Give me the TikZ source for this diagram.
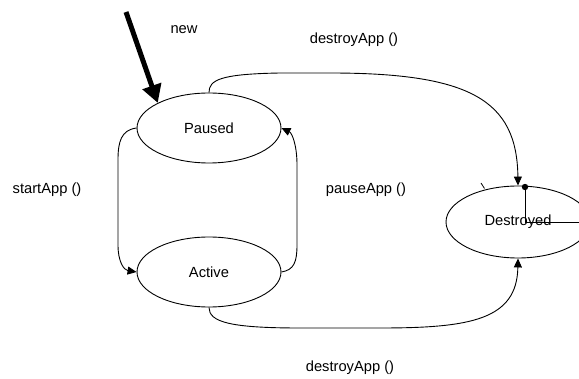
\documentclass[tikz,border=0pt]{standalone}
\usepackage{fontspec}
\setmainfont{Liberation Sans}
\usetikzlibrary{arrows.meta,shapes.geometric}
\begin{document}
\begin{tikzpicture}[x=1pt,y=-1pt,
  every node/.style={font=\fontsize{14.7}{17}\selectfont},
  state/.style={ellipse,draw,line width=0.9pt,minimum width=144pt,minimum height=70pt,inner sep=0pt},
  trans/.style={line width=0.9pt,-{Triangle[length=9pt,width=8pt]}},
  label/.style={inner sep=0pt},
  initial/.style={line width=5pt,-{Triangle[length=18pt,width=19pt]}}]
  \useasboundingbox (0,0) rectangle (579,379);
  \clip (0,0) rectangle (579,379);

  % states
  \node[state] (paused) at (209,128) {Paused};
  \node[state] (active) at (209,272) {Active};
  \node[state,minimum height=72pt] (destroyed) at (518,222) {Destroyed};

  % initial transition
  \coordinate (newstart) at (126,12);
  \draw[initial] (newstart) -- (paused.north west);
  \node[label] (lnew) at (184,30) {new};

  % destroyApp from Paused
  \draw[trans] (paused.north) .. controls (209,80) and (220,74) .. (280,73)
    -- (330,73) .. controls (470,73) and (517,100) .. (destroyed.north);
  \node[label] (ldestroytop) at (354,40) {destroyApp ()};

  % destroyApp from Active
  \draw[trans] (active.south) .. controls (209,322) and (230,328) .. (300,328)
    -- (380,328) .. controls (470,328) and (517,320) .. (destroyed.south);
  \node[label] (ldestroybot) at (350,368) {destroyApp ()};

  % startApp
  \draw[trans] (paused.west) .. controls (121,130) and (118,142) .. (118,160)
    -- (118,245) .. controls (118,262) and (124,270) .. (active.west);
  \node[label] (lstart) at (47,190) {startApp ()};

  % pauseApp
  \draw[trans] (active.east) .. controls (294,270) and (297,262) .. (297,245)
    -- (297,165) .. controls (297,145) and (292,133) .. (paused.east);
  \node[label] (lpause) at (366,190) {pauseApp ()};

  % terminal marker on Destroyed
  \coordinate (dot) at (525,187);
  \coordinate (corner) at (525,222);
  \coordinate (edge) at (579,222);
  \fill (dot) circle (3.2pt);
  \draw[line width=0.9pt] (dot) -- (corner) -- (edge);
  \coordinate (tickA) at (481,183);
  \coordinate (tickB) at (484.5,188.5);
  \draw[line width=0.8pt] (tickA) -- (tickB);
\end{tikzpicture}
\end{document}
